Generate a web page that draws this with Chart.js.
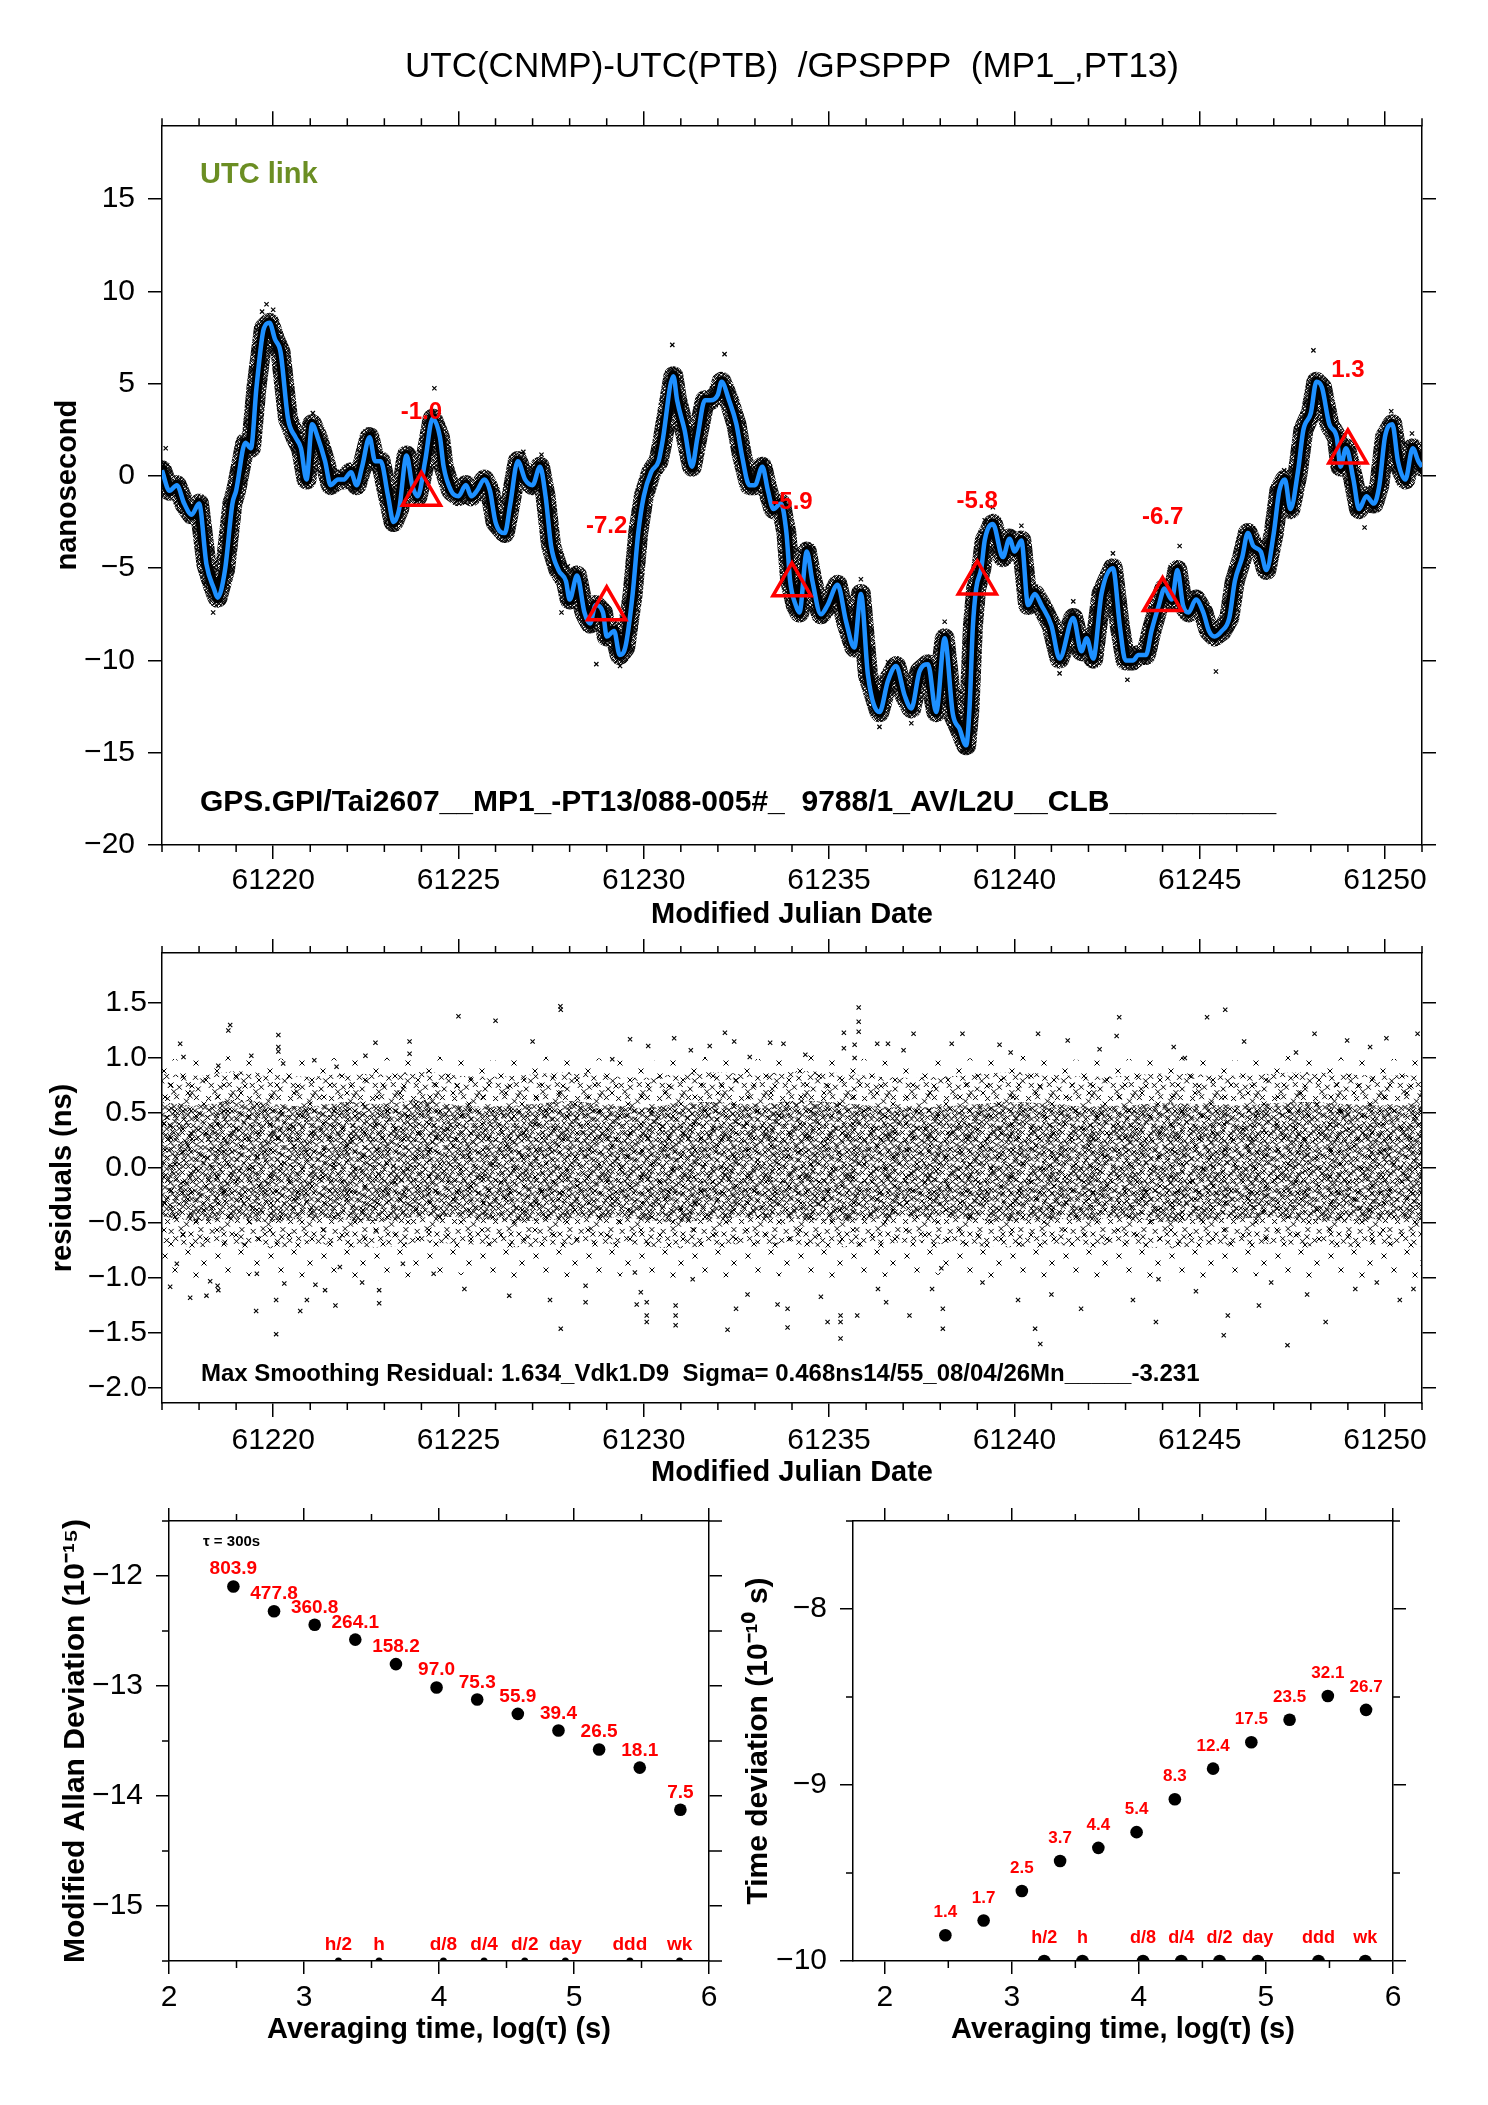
<!DOCTYPE html>
<html>
<head>
<meta charset="utf-8">
<script src="https://cdn.jsdelivr.net/npm/chart.js@4.4.1/dist/chart.umd.min.js"></script>
<style>
  body { margin: 0; background: #fff; }
  #page { position: relative; width: 1488px; height: 2105px; background: #fff; overflow: hidden; }
  canvas { position: absolute; }
</style>
</head>
<body>
<div id="page">
  <canvas id="cTop" width="1488" height="940" style="left:0px;top:0px"></canvas>
  <canvas id="cRes" width="1488" height="570" style="left:0px;top:930px"></canvas>
  <canvas id="cMdev" width="740" height="615" style="left:0px;top:1490px"></canvas>
  <canvas id="cTdev" width="768" height="615" style="left:720px;top:1490px"></canvas>
</div>
<script>
/* UTC(CNMP)-UTC(PTB) GPS PPP link report: offset, residuals, MDEV, TDEV */

// ---- text ------------------------------------------------------------
const topTitle  = "UTC(CNMP)-UTC(PTB)  /GPSPPP  (MP1_,PT13)";
const linkTag   = "UTC link";
const linkInfo  = "GPS.GPI/Tai2607__MP1_-PT13/088-005#_  9788/1_AV/L2U__CLB__________";
const residInfo = "Max Smoothing Residual: 1.634_Vdk1.D9  Sigma= 0.468ns14/55_08/04/26Mn_____-3.231";

// ---- axes / ticks ----------------------------------------------------
const dayMajor = [61220, 61225, 61230, 61235, 61240, 61245, 61250];
const dayMinor = [61217, 61218, 61219, 61221, 61222, 61223, 61224, 61226, 61227, 61228, 61229,
                  61231, 61232, 61233, 61234, 61236, 61237, 61238, 61239, 61241, 61242, 61243,
                  61244, 61246, 61247, 61248, 61249, 61251];
const nsTicks    = [-20, -15, -10, -5, 0, 5, 10, 15];
const residTicks = [-2.0, -1.5, -1.0, -0.5, 0.0, 0.5, 1.0, 1.5];
const logTicks   = [2, 3, 4, 5, 6];
const logMinor   = [2.5, 3.5, 4.5, 5.5];
const mdevTicks  = [-15, -14, -13, -12];
const mdevMinor  = [-15.5, -14.5, -13.5, -12.5, -11.5];
const tdevTicks  = [-10, -9, -8];
const tdevMinor  = [-9.5, -8.5, -7.5];

// ---- top panel: smoothed offset [MJD, ns] ----
const smoothCurve = [
  [61217.0, 0.3], [61217.2, -0.8], [61217.4, -0.5], [61217.6, -1.5], [61217.8, -2.1],
  [61218.0, -1.5], [61218.2, -4.8], [61218.4, -6.1], [61218.5, -6.6], [61218.7, -5.1],
  [61218.9, -1.5], [61219.0, -0.8], [61219.25, 1.8], [61219.4, 1.5], [61219.55, 4.8],
  [61219.75, 8.0], [61219.9, 8.3], [61220.05, 7.4], [61220.2, 6.7], [61220.4, 3.1],
  [61220.6, 2.1], [61220.75, 1.5], [61220.9, -0.2], [61221.05, 2.8], [61221.2, 2.1],
  [61221.4, 0.8], [61221.55, -0.5], [61221.75, -0.2], [61221.9, -0.2], [61222.1, 0.2],
  [61222.25, -0.5], [61222.4, 0.5], [61222.6, 2.1], [61222.75, 0.8], [61222.9, 0.8],
  [61223.1, -1.1], [61223.25, -2.5], [61223.4, -1.8], [61223.6, 1.1], [61223.75, -0.5],
  [61223.9, -1.1], [61224.1, 0.8], [61224.3, 3.1], [61224.5, 2.1], [61224.6, 0.5],
  [61224.8, -0.8], [61225.0, -1.1], [61225.2, -0.5], [61225.35, -1.1], [61225.5, -0.8],
  [61225.7, -0.2], [61225.85, -0.8], [61226.0, -2.5], [61226.25, -3.1], [61226.4, -1.5],
  [61226.6, 0.8], [61226.8, -0.2], [61227.0, -0.5], [61227.2, 0.5], [61227.35, -1.1],
  [61227.5, -3.8], [61227.7, -5.1], [61227.9, -5.7], [61228.0, -6.7], [61228.2, -5.4],
  [61228.4, -7.4], [61228.55, -8.0], [61228.7, -7.0], [61228.9, -7.4], [61229.0, -8.7],
  [61229.2, -8.4], [61229.35, -9.7], [61229.5, -9.3], [61229.7, -6.4], [61229.85, -3.1],
  [61230.0, -1.1], [61230.2, 0.2], [61230.4, 0.8], [61230.5, 1.8], [61230.8, 5.4],
  [61230.9, 4.1], [61231.1, 2.5], [61231.3, 0.5], [61231.45, 2.1], [61231.65, 4.1],
  [61231.8, 4.1], [61232.0, 4.4], [61232.1, 5.1], [61232.3, 4.1], [61232.5, 2.8],
  [61232.65, 1.1], [61232.85, -0.5], [61233.0, -0.5], [61233.2, 0.5], [61233.35, -0.8],
  [61233.5, -1.8], [61233.7, -1.5], [61233.85, -3.1], [61233.95, -5.7], [61234.1, -7.0],
  [61234.2, -7.4], [61234.4, -4.1], [61234.55, -5.7], [61234.78, -7.5], [61234.96, -7.0],
  [61235.23, -5.9], [61235.46, -7.9], [61235.68, -9.3], [61235.86, -6.4], [61236.05, -10.8],
  [61236.36, -12.8], [61236.59, -11.1], [61236.81, -10.3], [61237.04, -11.9], [61237.22, -12.6],
  [61237.44, -10.6], [61237.67, -10.2], [61237.89, -12.8], [61238.12, -8.8], [61238.34, -12.9],
  [61238.52, -13.7], [61238.70, -14.6], [61238.79, -12.6], [61238.88, -8.2], [61238.97, -6.1],
  [61239.11, -5.0], [61239.20, -3.5], [61239.42, -2.6], [61239.69, -4.4], [61239.87, -3.4],
  [61240.01, -4.1], [61240.19, -3.5], [61240.37, -7.0], [61240.55, -6.4], [61240.73, -7.0],
  [61241.0, -8.1], [61241.22, -9.9], [61241.59, -7.7], [61241.81, -9.5], [61241.95, -8.8],
  [61242.13, -9.9], [61242.35, -6.4], [61242.66, -5.0], [61242.85, -8.2], [61243.0, -10.0],
  [61243.2, -10.0], [61243.35, -9.7], [61243.55, -9.7], [61243.7, -8.4], [61243.9, -7.0],
  [61244.05, -6.1], [61244.25, -6.7], [61244.4, -5.1], [61244.55, -7.0], [61244.7, -7.4],
  [61244.9, -6.7], [61245.1, -7.4], [61245.25, -8.4], [61245.4, -8.7], [61245.6, -8.4],
  [61245.8, -7.7], [61245.95, -5.7], [61246.15, -4.4], [61246.3, -3.1], [61246.45, -3.8],
  [61246.65, -4.1], [61246.8, -5.1], [61247.0, -3.1], [61247.15, -0.8], [61247.3, -0.2],
  [61247.45, -1.8], [61247.65, 0.2], [61247.8, 2.5], [61248.0, 3.4], [61248.15, 5.1],
  [61248.3, 4.8], [61248.5, 2.8], [61248.7, 2.1], [61248.8, 0.5], [61248.95, 1.5],
  [61249.15, -0.2], [61249.3, -1.8], [61249.5, -1.1], [61249.7, -1.5], [61249.85, -0.5],
  [61250.0, 2.1], [61250.2, 2.8], [61250.35, 0.8], [61250.55, -0.2], [61250.75, 1.5],
  [61250.9, 0.8], [61251.0, 0.5]
];
// single measurements that stick out of the black cloud
const topOutliers = [
  [61219.82, 9.3], [61220.0, 9.0], [61219.7, 8.9], [61230.77, 7.1], [61232.18, 6.6],
  [61238.70, -15.0], [61238.60, -14.9], [61236.36, -13.6], [61237.22, -13.4], [61218.38, -7.4],
  [61248.07, 6.8], [61250.17, 3.5], [61244.46, -3.8], [61242.66, -4.2], [61241.22, -10.7],
  [61243.05, -11.05], [61245.44, -10.6], [61229.36, -10.3], [61228.72, -10.2], [61224.35, 4.75],
  [61226.75, 1.3], [61227.24, 1.15], [61234.48, -3.8], [61235.86, -5.6], [61238.12, -7.9],
  [61249.45, -2.8], [61222.7, 2.3], [61221.07, 3.4], [61217.1, 1.5], [61250.73, 2.3],
  [61247.28, 0.3], [61239.42, -1.7], [61233.25, 0.8], [61227.95, -4.9], [61227.78, -7.4],
  [61239.20, -2.4], [61240.19, -2.7], [61241.59, -6.8], [61236.59, -10.1]
];
// red triangles: link calibration values
const triDay  = [61224, 61229, 61234, 61239, 61244, 61249];
const triNs   = [-1.0, -7.2, -5.9, -5.8, -6.7, 1.3];
const triText = ["-1.0", "-7.2", "-5.9", "-5.8", "-6.7", "1.3"];

// ---- middle panel: residual cloud (ns) -------------------------------
const bandDay = [61217, 61218, 61219, 61220, 61221, 61222, 61223, 61224, 61225, 61226, 61227, 61228,
                 61229, 61230, 61231, 61232, 61233, 61234, 61235, 61236, 61237, 61238, 61239, 61240,
                 61241, 61242, 61243, 61244, 61245, 61246, 61247, 61248, 61249, 61250, 61251];
const coreHi = [0.60, 0.57, 0.62, 0.58, 0.56, 0.60, 0.58, 0.62, 0.57, 0.56, 0.58, 0.61,
                0.57, 0.55, 0.59, 0.60, 0.58, 0.61, 0.60, 0.57, 0.55, 0.56, 0.58, 0.60,
                0.58, 0.56, 0.57, 0.59, 0.58, 0.57, 0.59, 0.60, 0.58, 0.57, 0.58];
const coreLo = [-0.44, -0.48, -0.46, -0.49, -0.45, -0.47, -0.48, -0.44, -0.45, -0.47, -0.48, -0.46,
                -0.45, -0.47, -0.49, -0.46, -0.45, -0.46, -0.48, -0.47, -0.44, -0.45, -0.47, -0.48,
                -0.46, -0.47, -0.45, -0.49, -0.47, -0.46, -0.45, -0.47, -0.48, -0.46, -0.47];
const midHi  = [0.86, 0.84, 0.88, 0.85, 0.83, 0.86, 0.85, 0.88, 0.84, 0.83, 0.85, 0.87,
                0.84, 0.82, 0.86, 0.87, 0.85, 0.88, 0.87, 0.84, 0.82, 0.83, 0.85, 0.87,
                0.85, 0.83, 0.84, 0.86, 0.85, 0.84, 0.86, 0.87, 0.85, 0.84, 0.85];
const midLo  = [-0.68, -0.72, -0.70, -0.73, -0.69, -0.71, -0.72, -0.68, -0.69, -0.71, -0.72, -0.70,
                -0.69, -0.71, -0.73, -0.70, -0.69, -0.70, -0.72, -0.71, -0.68, -0.69, -0.71, -0.72,
                -0.70, -0.71, -0.69, -0.73, -0.71, -0.70, -0.69, -0.71, -0.72, -0.70, -0.71];
const sparseHi = [1.00, 0.98, 1.02, 1.00, 0.98, 1.01, 1.00, 1.03, 0.99, 0.98, 1.00, 1.02,
                  0.99, 0.97, 1.00, 1.01, 0.99, 1.02, 1.03, 0.99, 0.97, 0.98, 1.00, 1.02,
                  1.00, 0.98, 0.99, 1.01, 1.00, 0.98, 1.01, 1.02, 1.00, 0.99, 1.00];
const sparseLo = [-0.98, -1.00, -0.97, -1.01, -0.99, -1.00, -1.02, -0.98, -0.97, -1.00, -1.01, -0.99,
                  -0.98, -1.00, -1.02, -1.00, -0.98, -0.99, -1.01, -1.00, -0.98, -0.97, -1.00, -1.01,
                  -0.99, -1.00, -0.98, -1.02, -1.00, -0.99, -0.98, -1.00, -1.01, -0.99, -1.00];
const residOutliers = [
  [61217.49, 1.13], [61218.84, 1.30], [61218.79, 1.25], [61220.14, 1.21], [61220.14, 1.10],
  [61220.14, 1.06], [61222.76, 1.14], [61223.68, 1.15], [61223.68, 1.04], [61221.11, 0.98],
  [61222.49, 1.02], [61217.58, 1.01], [61218.52, 0.93], [61219.41, 1.02], [61220.27, 0.95],
  [61221.71, 0.92], [61217.22, -1.08], [61217.76, -1.18], [61218.52, -1.11], [61219.54, -1.30],
  [61220.08, -1.51], [61220.08, -1.20], [61220.73, -1.30], [61220.91, -1.20], [61221.68, -1.25],
  [61222.86, -1.23], [61222.86, -1.11], [61221.14, -1.06], [61222.40, -1.04], [61218.30, -1.03],
  [61220.30, -1.05], [61221.40, -1.11], [61217.40, -0.87], [61219.56, -0.96], [61221.80, -0.90],
  [61223.50, -0.87], [61224.33, -0.96], [61225.0, 1.38], [61226.0, 1.34], [61227.0, 1.15],
  [61227.75, 1.47], [61225.16, -1.10], [61226.37, -1.16], [61227.76, -1.46], [61227.47, -1.20],
  [61235.80, 1.46], [61235.80, 1.33], [61235.80, 1.24], [61235.40, 1.23], [61235.69, 1.12],
  [61235.69, 1.00], [61235.40, 1.09], [61230.82, 1.18], [61232.19, 1.23], [61232.44, 1.15],
  [61229.63, 1.17], [61230.12, 1.11], [61231.78, 1.11], [61233.41, 1.14], [61233.77, 1.13],
  [61236.30, 1.13], [61236.59, 1.13], [61237.28, 1.22], [61238.31, 1.13], [61231.27, 1.07],
  [61232.86, 1.01], [61234.36, 1.03], [61237.01, 1.07], [61229.15, 0.99], [61227.76, 1.44],
  [61228.43, -1.22], [61228.43, -1.07], [61230.08, -1.40], [61230.08, -1.34], [61230.08, -1.22],
  [61230.86, -1.43], [61230.86, -1.34], [61230.86, -1.25], [61232.26, -1.47], [61232.49, -1.28],
  [61233.88, -1.45], [61233.88, -1.28], [61235.31, -1.55], [61235.31, -1.40], [61235.31, -1.34],
  [61234.96, -1.40], [61235.76, -1.34], [61237.17, -1.34], [61238.07, -1.46], [61238.07, -1.28],
  [61236.54, -1.22], [61233.61, -1.24], [61229.81, -1.24], [61229.76, -0.95], [61231.32, -1.01],
  [61232.80, -1.15], [61234.78, -1.17], [61236.32, -1.10], [61238.03, -0.91],
  [61238.6, 1.22], [61239.6, 1.12], [61240.64, 1.22], [61240.56, -1.46], [61240.7, -1.60],
  [61241.44, 1.16], [61241.8, -1.28], [61242.83, 1.37], [61242.76, 1.20], [61243.82, -1.40],
  [61243.89, -1.01], [61245.2, 1.37], [61245.69, 1.44], [61245.65, -1.52], [61245.76, -1.34],
  [61247.37, -1.61], [61248.4, -1.40], [61248.1, 1.22], [61248.98, 1.16], [61249.2, -1.10],
  [61250.04, 1.18], [61250.77, -1.10], [61250.88, 1.22], [61249.78, -1.04], [61246.93, -1.04],
  [61239.14, -1.04], [61237.78, -1.10], [61229.92, -1.13], [61218.2, -1.16], [61218.5, -1.07],
  [61239.9, 1.05], [61241.0, -1.15], [61242.3, 1.08], [61243.2, -1.20], [61244.3, 1.10],
  [61244.9, -1.12], [61246.2, 1.15], [61246.6, -1.25], [61247.6, 1.05], [61249.6, 1.10],
  [61250.4, -1.20], [61244.6, 1.00], [61240.1, -1.20], [61247.9, -1.15]
];

// ---- bottom panels: stability vs averaging time ---------------------
const tauLog   = [2.477, 2.778, 3.079, 3.380, 3.681, 3.982, 4.283, 4.584, 4.885, 5.186, 5.487, 5.788];
const mdevLog  = [-12.095, -12.321, -12.443, -12.578, -12.801, -13.013, -13.123, -13.253, -13.405, -13.577, -13.742, -14.125];
const mdevText = ["803.9", "477.8", "360.8", "264.1", "158.2", "97.0", "75.3", "55.9", "39.4", "26.5", "18.1", "7.5"];
const tdevLog  = [-9.854, -9.770, -9.602, -9.432, -9.357, -9.268, -9.081, -8.907, -8.757, -8.629, -8.494, -8.573];
const tdevText = ["1.4", "1.7", "2.5", "3.7", "4.4", "5.4", "8.3", "12.4", "17.5", "23.5", "32.1", "26.7"];
const markLog  = [3.255, 3.556, 4.033, 4.334, 4.635, 4.936, 5.414, 5.782];
const markText = ["h/2", "h", "d/8", "d/4", "d/2", "day", "ddd", "wk"];
const mdevMin = -15.5, tdevMin = -10;

// ---- helpers ---------------------------------------------------------
const FAM = "'Liberation Sans', Arial, Helvetica, sans-serif";
const RED = "#ff0000";
const signed = v => (v < 0 ? "\u2212" : "") + Math.abs(v);
const signed1 = v => (v < 0 ? "\u2212" : "") + Math.abs(v).toFixed(1);
const pts = (xs, ys) => xs.map((x, i) => ({x, y: ys[i]}));
const pairs = arr => arr.map(([x, y]) => ({x, y}));

// hand-placed "x" marks for the cloud textures (tile pixel positions)
const tileDense = [
  [3, 4], [7, 6], [15, 2], [22, 5], [27, 3], [35, 7], [41, 2], [46, 9],
  [2, 13], [10, 11], [13, 15], [19, 12], [30, 13], [33, 17], [39, 14], [44, 18],
  [6, 21], [11, 24], [17, 20], [24, 22], [26, 27], [36, 23], [42, 25], [47, 28],
  [3, 30], [9, 33], [15, 29], [20, 34], [29, 32], [34, 30], [38, 35], [45, 36],
  [5, 40], [12, 42], [18, 38], [23, 41], [28, 44], [32, 39], [40, 43], [44, 46],
  [1, 46], [8, 47], [16, 45], [21, 28], [31, 24], [37, 4], [12, 7], [25, 16]
];
const tileMid = [
  [4, 5], [14, 3], [25, 8], [36, 4], [41, 14], [8, 16], [19, 13], [30, 19], [3, 26], [13, 24], [22, 28],
  [35, 27], [43, 31], [7, 36], [17, 38], [27, 35], [38, 40], [11, 43], [31, 44], [21, 19], [40, 22], [29, 2]
];
const tileSparse = [[6, 8], [29, 4], [45, 15], [16, 22], [37, 27], [5, 35], [24, 40], [47, 44], [12, 49], [33, 50]];

function crossPattern(size, spots, scale = 1) {
  const c = document.createElement("canvas");
  c.width = c.height = size;
  const g = c.getContext("2d");
  g.strokeStyle = "#000"; g.lineWidth = 1;
  g.beginPath();
  spots.forEach(([px, py]) => {
    const x = px * scale, y = py * scale;
    for (const dx of [-size, 0, size]) for (const dy of [-size, 0, size]) {
      g.moveTo(x + dx - 2.5, y + dy - 2.5); g.lineTo(x + dx + 2.5, y + dy + 2.5);
      g.moveTo(x + dx - 2.5, y + dy + 2.5); g.lineTo(x + dx + 2.5, y + dy - 2.5);
    }
  });
  g.stroke();
  return g.createPattern(c, "repeat");
}

function axis(pos, min, max, ticks, size, o = {}) {
  const vertical = pos === "left" || pos === "right";
  return {
    type: "linear", position: pos, min, max,
    afterBuildTicks: s => { s.ticks = ticks.map(v => ({value: v})); },
    afterFit: s => { if (vertical) s.width = size; else s.height = size; },
    grid: {display: true, drawOnChartArea: false, drawTicks: true, tickLength: o.tick || 14, lineWidth: 1.5, color: "#000"},
    border: {display: true, width: 1.5, color: "#000"},
    ticks: {display: !!o.fmt, font: {family: FAM, size: 30}, color: "#000", padding: o.pad || 0,
            maxRotation: 0, autoSkip: false, callback: o.fmt || (() => "")},
    title: o.title
      ? {display: true, text: o.title, color: "#000", padding: o.titlePad,
         font: {family: FAM, size: o.titleSize || 29, weight: "bold", lineHeight: 1.2}}
      : {display: false}
  };
}

// minor tick marks on all four sides, outward
const minorTicks = {
  id: "minorTicks",
  afterDraw(chart, args, opts) {
    const {ctx, chartArea: a} = chart;
    const xs = chart.scales.x, ys = chart.scales.y;
    ctx.save();
    ctx.strokeStyle = "#000"; ctx.lineWidth = 1.5;
    ctx.beginPath();
    (opts.x || []).forEach(v => {
      const p = xs.getPixelForValue(v);
      ctx.moveTo(p, a.bottom); ctx.lineTo(p, a.bottom + opts.len);
      ctx.moveTo(p, a.top); ctx.lineTo(p, a.top - opts.len);
    });
    (opts.y || []).forEach(v => {
      const p = ys.getPixelForValue(v);
      ctx.moveTo(a.left, p); ctx.lineTo(a.left - opts.len, p);
      ctx.moveTo(a.right, p); ctx.lineTo(a.right + (opts.rlen || opts.len), p);
    });
    ctx.stroke();
    ctx.restore();
  }
};

// text attached to the points of a dataset
const pointText = {
  id: "pointText",
  afterDatasetsDraw(chart, args, opts) {
    const ctx = chart.ctx;
    ctx.save();
    (opts.sets || []).forEach(s => {
      const meta = chart.getDatasetMeta(s.index);
      ctx.font = s.font; ctx.fillStyle = s.color;
      ctx.textAlign = "center"; ctx.textBaseline = s.baseline || "alphabetic";
      meta.data.forEach((el, i) => ctx.fillText(s.texts[i], el.x, el.y + s.dy));
    });
    ctx.restore();
  }
};

// free annotations inside the frame
const freeText = {
  id: "freeText",
  afterDraw(chart, args, opts) {
    const ctx = chart.ctx;
    ctx.save();
    (opts.items || []).forEach(t => {
      ctx.font = t.font; ctx.fillStyle = t.color || "#000";
      ctx.textAlign = "left"; ctx.textBaseline = "alphabetic";
      ctx.fillText(t.text, t.x, t.y);
    });
    ctx.restore();
  }
};

const base = {
  responsive: false, animation: false, devicePixelRatio: 1, events: [],
  layout: {padding: 0, autoPadding: false}
};
const quiet = {legend: {display: false}, tooltip: {enabled: false}};

// ---- 1. offset time series -------------------------------------------
const patCloud = crossPattern(20, tileDense, 0.42);
new Chart(document.getElementById("cTop"), {
  type: "scatter",
  data: {datasets: [
    {data: pts(triDay, triNs), pointStyle: "triangle", pointRadius: 22, borderColor: RED,
     borderWidth: 3.5, backgroundColor: "rgba(0,0,0,0)", order: 0, clip: false},
    {data: pairs(smoothCurve), showLine: true, pointRadius: 0, borderColor: "#1e90ff",
     borderWidth: 4.5, cubicInterpolationMode: "monotone", order: 1, clip: 0},
    {data: pairs(smoothCurve), showLine: true, pointRadius: 0, borderColor: "#000",
     borderWidth: 11, borderJoinStyle: "round", borderCapStyle: "round", order: 2, clip: 0},
    {data: pairs(smoothCurve), showLine: true, pointRadius: 0, borderColor: patCloud,
     borderWidth: 20, borderJoinStyle: "round", borderCapStyle: "round", order: 3, clip: 0},
    {data: pairs(topOutliers), pointStyle: "crossRot", pointRadius: 3, borderColor: "#000",
     borderWidth: 1.2, order: 4, clip: 0}
  ]},
  options: {
    ...base,
    plugins: {
      ...quiet,
      title: {display: true, text: topTitle, fullSize: false, color: "#000",
              font: {family: FAM, size: 35, weight: "normal", lineHeight: 1.15},
              padding: {top: 47, bottom: 0}},
      minorTicks: {x: dayMinor, len: 7},
      pointText: {sets: [{index: 0, texts: triText, font: "bold 24px " + FAM, color: RED,
                          dy: -82, baseline: "middle"}]},
      freeText: {items: [
        {text: linkTag, x: 200, y: 183, font: "bold 29px " + FAM, color: "#6b8e23"},
        {text: linkInfo, x: 200, y: 811, font: "bold 30px " + FAM}
      ]}
    },
    scales: {
      x: axis("bottom", 61217, 61251, dayMajor, 95,
              {fmt: v => String(v), pad: 4, title: "Modified Julian Date", titlePad: {top: 0, bottom: 8}}),
      x2: axis("top", 61217, 61251, dayMajor, 38),
      y: axis("left", -20, 19, nsTicks, 162,
              {fmt: signed, pad: 13, title: "nanosecond", titlePad: {top: 51, bottom: 0}}),
      y2: axis("right", -20, 19, nsTicks, 66)
    }
  },
  plugins: [minorTicks, pointText, freeText]
});

// ---- 2. residuals ----------------------------------------------------
const patCore   = crossPattern(40, tileDense, 0.83);
const patMid    = crossPattern(41, tileMid, 0.9);
const patSparse = crossPattern(53, tileSparse);
const band = (ys, fill, bg) => ({data: pts(bandDay, ys), showLine: true, pointRadius: 0, borderWidth: 0,
                                 borderColor: "rgba(0,0,0,0)", tension: 0.35, fill: fill, backgroundColor: bg});

new Chart(document.getElementById("cRes"), {
  type: "scatter",
  data: {datasets: [
    {data: pairs(residOutliers), pointStyle: "crossRot", pointRadius: 3, borderColor: "#000", borderWidth: 1.1},
    band(coreHi, "+1", patCore), band(coreLo, false, null),
    band(midHi, "+1", patMid), band(midLo, false, null),
    band(sparseHi, "+1", patSparse), band(sparseLo, false, null)
  ]},
  options: {
    ...base,
    plugins: {
      ...quiet,
      minorTicks: {x: dayMinor, len: 7},
      freeText: {items: [{text: residInfo, x: 201, y: 451, font: "bold 24px " + FAM}]}
    },
    scales: {
      x: axis("bottom", 61217, 61251, dayMajor, 97,
              {fmt: v => String(v), pad: 6, title: "Modified Julian Date", titlePad: {top: 0, bottom: 10}}),
      x2: axis("top", 61217, 61251, dayMajor, 23),
      y: axis("left", -2.136, 1.955, residTicks, 162,
              {fmt: signed1, pad: 1, title: "residuals (ns)", titlePad: {top: 46, bottom: 0}}),
      y2: axis("right", -2.136, 1.955, residTicks, 66)
    }
  },
  plugins: [minorTicks, freeText]
});

// ---- 3. modified Allan deviation ------------------------------------
new Chart(document.getElementById("cMdev"), {
  type: "scatter",
  data: {datasets: [
    {data: pts(tauLog, mdevLog), pointRadius: 6.3, backgroundColor: "#000", borderColor: "#000", borderWidth: 0},
    {data: markLog.map(x => ({x, y: mdevMin})), pointRadius: 3.5, backgroundColor: "#000",
     borderColor: "#000", borderWidth: 0, clip: 0}
  ]},
  options: {
    ...base,
    plugins: {
      ...quiet,
      minorTicks: {x: logMinor, y: mdevMinor, len: 7, rlen: 13},
      pointText: {sets: [
        {index: 0, texts: mdevText, font: "bold 19px " + FAM, color: RED, dy: -12},
        {index: 1, texts: markText, font: "bold 19px " + FAM, color: RED, dy: -11}
      ]},
      freeText: {items: [{text: "\u03c4 = 300s", x: 203, y: 56, font: "bold 15px " + FAM}]}
    },
    scales: {
      x: axis("bottom", 2, 6, logTicks, 144,
              {tick: 13, fmt: v => String(v), pad: 6, title: "Averaging time, log(\u03c4) (s)",
               titlePad: {top: 0, bottom: 58}}),
      x2: axis("top", 2, 6, logTicks, 21, {tick: 13}),
      y: axis("left", -15.5, -11.5, mdevTicks, 169,
              {tick: 13, fmt: signed, pad: 13, title: "Modified Allan Deviation (10\u207b\u00b9\u2075)",
               titleSize: 30, titlePad: {top: 58, bottom: 0}}),
      y2: axis("right", -15.5, -11.5, mdevTicks, 31, {tick: 13})
    }
  },
  plugins: [minorTicks, pointText, freeText]
});

// ---- 4. time deviation -----------------------------------------------
new Chart(document.getElementById("cTdev"), {
  type: "scatter",
  data: {datasets: [
    {data: pts(tauLog, tdevLog), pointRadius: 6.3, backgroundColor: "#000", borderColor: "#000", borderWidth: 0},
    {data: markLog.map(x => ({x, y: tdevMin})), pointRadius: 6.3, backgroundColor: "#000",
     borderColor: "#000", borderWidth: 0, clip: 0}
  ]},
  options: {
    ...base,
    plugins: {
      ...quiet,
      minorTicks: {x: logMinor, y: tdevMinor, len: 7},
      pointText: {sets: [
        {index: 0, texts: tdevText, font: "bold 17px " + FAM, color: RED, dy: -18},
        {index: 1, texts: markText, font: "bold 18px " + FAM, color: RED, dy: -18}
      ]}
    },
    scales: {
      x: axis("bottom", 1.75, 6, logTicks, 144,
              {tick: 13, fmt: v => String(v), pad: 6, title: "Averaging time, log(\u03c4) (s)",
               titlePad: {top: 0, bottom: 58}}),
      x2: axis("top", 1.75, 6, logTicks, 21, {tick: 13}),
      y: axis("left", -10, -7.5, tdevTicks, 133,
              {tick: 13, fmt: signed, pad: 13, title: "Time deviation (10\u207b\u00b9\u2070 s)",
               titleSize: 30, titlePad: {top: 21, bottom: 0}}),
      y2: axis("right", -10, -7.5, tdevTicks, 95, {tick: 13})
    }
  },
  plugins: [minorTicks, pointText]
});
</script>
</body>
</html>
